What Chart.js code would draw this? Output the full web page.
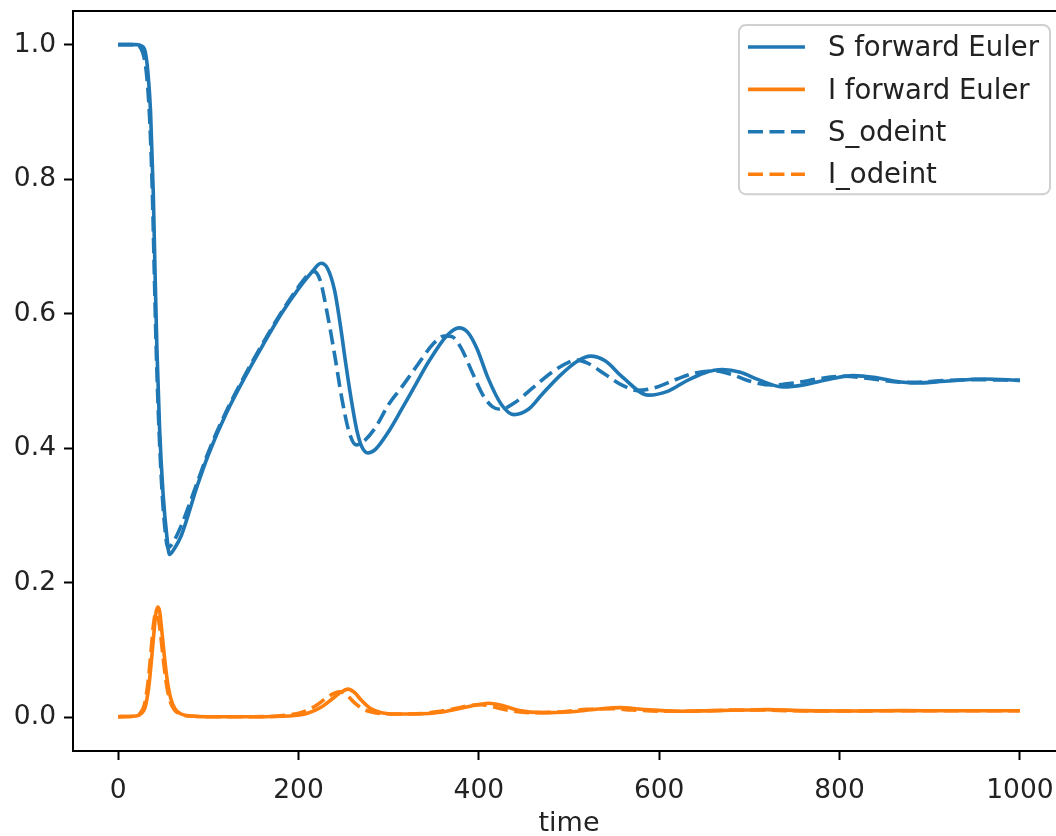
<!DOCTYPE html>
<html>
<head>
<meta charset="utf-8">
<script src="https://cdn.jsdelivr.net/npm/chart.js@4/dist/chart.umd.min.js"></script>
<style>
  html, body { margin: 0; padding: 0; background: #fff; overflow: hidden; }
  #wrap { width: 1056px; height: 836px; overflow: hidden; }
  canvas { display: block; }
</style>
</head>
<body>
<div id="wrap"><canvas id="chart" width="1070" height="836"></canvas></div>
<script>
// values (time, fraction of population)
const tSEuler = [0, 20, 26, 30, 33, 36, 39, 41, 43, 46, 50, 54, 57, 62, 70, 88, 100, 120, 144, 160, 181, 200, 215, 225, 232, 240, 247, 252, 258, 265, 270, 277, 285, 300, 314, 328, 345, 365, 378, 388, 398, 410, 425, 439, 455, 470, 490, 510, 524, 540, 560, 588, 610, 630, 650, 670, 690, 710, 738, 760, 790, 815, 840, 860, 885, 920, 960, 1000];
const sEuler = [1.0, 1.0, 0.998, 0.99, 0.96, 0.9, 0.78, 0.66, 0.55, 0.43, 0.33, 0.27, 0.242, 0.25, 0.27, 0.345, 0.39, 0.452, 0.514, 0.552, 0.6, 0.637, 0.662, 0.675, 0.668, 0.635, 0.578, 0.53, 0.477, 0.425, 0.403, 0.393, 0.398, 0.425, 0.457, 0.49, 0.53, 0.568, 0.579, 0.572, 0.548, 0.505, 0.465, 0.45, 0.458, 0.48, 0.508, 0.53, 0.537, 0.53, 0.505, 0.479, 0.485, 0.5, 0.512, 0.517, 0.513, 0.502, 0.491, 0.494, 0.503, 0.508, 0.505, 0.5, 0.497, 0.5, 0.503, 0.501];

const tIEuler = [0, 20, 26, 30, 34, 37, 40, 42, 44, 46, 48, 51, 54, 58, 63, 70, 80, 100, 150, 190, 210, 225, 238, 248, 255, 262, 270, 280, 292, 310, 330, 360, 385, 400, 411, 425, 445, 470, 500, 530, 557, 580, 620, 660, 700, 720, 760, 820, 870, 920, 1000];
const iEuler = [0.001, 0.002, 0.006, 0.015, 0.045, 0.085, 0.13, 0.155, 0.164, 0.158, 0.135, 0.095, 0.06, 0.03, 0.013, 0.005, 0.002, 0.001, 0.001, 0.002, 0.006, 0.015, 0.028, 0.038, 0.042, 0.037, 0.025, 0.013, 0.007, 0.005, 0.005, 0.008, 0.015, 0.019, 0.021, 0.018, 0.01, 0.007, 0.008, 0.012, 0.0145, 0.012, 0.009, 0.01, 0.011, 0.0115, 0.01, 0.0095, 0.01, 0.0098, 0.0098];

const tSOde = [0, 20, 25, 29, 32, 35, 38, 40, 42, 45, 49, 52, 55, 60, 70, 88, 100, 120, 144, 160, 181, 200, 212, 217, 224, 232, 240, 248, 256, 264, 272, 285, 300, 314, 330, 350, 362, 370, 380, 392, 405, 415, 424, 440, 460, 480, 500, 509, 520, 540, 560, 576, 595, 620, 640, 660, 680, 700, 725, 750, 780, 805, 830, 860, 880, 920, 950, 1000];
const sOde = [1.0, 1.0, 0.995, 0.98, 0.95, 0.89, 0.78, 0.67, 0.56, 0.44, 0.33, 0.28, 0.252, 0.258, 0.285, 0.35, 0.394, 0.455, 0.517, 0.555, 0.602, 0.64, 0.66, 0.663, 0.65, 0.6, 0.54, 0.475, 0.425, 0.405, 0.41, 0.43, 0.465, 0.49, 0.52, 0.556, 0.567, 0.566, 0.55, 0.515, 0.478, 0.462, 0.458, 0.468, 0.49, 0.512, 0.528, 0.531, 0.527, 0.51, 0.493, 0.486, 0.49, 0.503, 0.512, 0.515, 0.51, 0.5, 0.494, 0.497, 0.504, 0.507, 0.504, 0.499, 0.498, 0.501, 0.502, 0.501];

const tIOde = [0, 20, 25, 29, 33, 36, 39, 41, 43, 45, 47, 50, 53, 57, 62, 70, 80, 100, 150, 185, 205, 220, 232, 240, 246, 253, 262, 272, 285, 310, 340, 370, 392, 402, 415, 435, 460, 490, 520, 545, 570, 610, 650, 690, 710, 750, 810, 860, 1000];
const iOde = [0.001, 0.002, 0.007, 0.018, 0.05, 0.09, 0.135, 0.152, 0.155, 0.145, 0.125, 0.088, 0.055, 0.027, 0.012, 0.004, 0.002, 0.001, 0.001, 0.003, 0.008, 0.018, 0.03, 0.036, 0.038, 0.034, 0.022, 0.012, 0.007, 0.005, 0.006, 0.012, 0.018, 0.019, 0.016, 0.01, 0.007, 0.008, 0.012, 0.013, 0.011, 0.009, 0.0095, 0.011, 0.011, 0.0098, 0.0095, 0.0098, 0.0098];

const seriesLabels = ['S forward Euler', 'I forward Euler', 'S_odeint', 'I_odeint'];
const xTicks = [0, 200, 400, 600, 800, 1000];
const yTicks = [0, 0.2, 0.4, 0.6, 0.8, 1.0];

const BLUE = '#1f77b4';
const ORANGE = '#ff7f0e';
const DASH = [15, 6.5];
const FONT = 'DejaVu Sans';
const TXT = '#222';

function pts(ts, vs) {
  return ts.map((t, i) => ({ x: t, y: vs[i] }));
}

function lineSet(label, data, color, dash, order) {
  return {
    label, data, order,
    borderColor: color,
    borderWidth: 3.6,
    borderDash: dash,
    borderCapStyle: 'butt',
    borderJoinStyle: 'round',
    pointRadius: 0,
    fill: false,
    cubicInterpolationMode: 'monotone'
  };
}

// matplotlib-like framed legend + top/right spines
const boxLegend = {
  id: 'boxLegend',
  afterDraw(chart) {
    const ctx = chart.ctx;
    const area = chart.chartArea;

    ctx.save();
    ctx.strokeStyle = '#000';
    ctx.lineWidth = 2;
    ctx.beginPath();
    ctx.moveTo(area.left - 1, area.top);
    ctx.lineTo(area.right + 1, area.top);
    ctx.moveTo(area.right, area.top);
    ctx.lineTo(area.right, area.bottom);
    ctx.stroke();

    const sets = chart.data.datasets;
    ctx.font = `27.5px "${FONT}"`;
    const textW = Math.max(...sets.map(d => ctx.measureText(d.label).width));
    const padL = 9, handle = 57, gap = 23, padR = 11;
    const rowH = 42.4, firstRow = 22;
    const w = padL + handle + gap + textW + padR;
    const h = firstRow * 2 + rowH * (sets.length - 1) - 2;
    const x0 = area.right - 15 - w;
    const y0 = area.top + 14;

    ctx.fillStyle = 'rgba(255,255,255,0.8)';
    ctx.strokeStyle = '#d0d0d0';
    ctx.lineWidth = 2;
    ctx.beginPath();
    ctx.roundRect(x0, y0, w, h, 7);
    ctx.fill();
    ctx.stroke();

    sets.forEach((d, i) => {
      const cy = y0 + firstRow + i * rowH;
      ctx.strokeStyle = d.borderColor;
      ctx.lineWidth = d.borderWidth;
      ctx.setLineDash(d.borderDash || []);
      ctx.lineCap = 'butt';
      ctx.beginPath();
      ctx.moveTo(x0 + padL, cy);
      ctx.lineTo(x0 + padL + handle, cy);
      ctx.stroke();
      ctx.setLineDash([]);
      ctx.fillStyle = TXT;
      ctx.textBaseline = 'middle';
      ctx.textAlign = 'left';
      ctx.fillText(d.label, x0 + padL + handle + gap, cy + 2);
    });
    ctx.restore();
  }
};

const ctx = document.getElementById('chart').getContext('2d');
new Chart(ctx, {
  type: 'line',
  data: {
    datasets: [
      lineSet(seriesLabels[0], pts(tSEuler, sEuler), BLUE, [], 3),
      lineSet(seriesLabels[1], pts(tIEuler, iEuler), ORANGE, [], 2),
      lineSet(seriesLabels[2], pts(tSOde, sOde), BLUE, DASH, 1),
      lineSet(seriesLabels[3], pts(tIOde, iOde), ORANGE, DASH, 0)
    ]
  },
  options: {
    responsive: false,
    devicePixelRatio: 1,
    animation: false,
    layout: { padding: { left: 0, right: 5, top: 11, bottom: 0 } },
    plugins: { legend: { display: false }, tooltip: { enabled: false } },
    scales: {
      x: {
        type: 'linear',
        min: -50,
        max: 1050,
        afterBuildTicks: s => { s.ticks = xTicks.map(v => ({ value: v })); },
        afterFit: s => { s.height = 85; s.paddingLeft = 0; s.paddingRight = 0; },
        grid: { drawOnChartArea: false, drawTicks: true, tickLength: 9, tickWidth: 2, tickColor: '#000' },
        border: { display: true, color: '#000', width: 2 },
        ticks: {
          color: TXT,
          font: { family: FONT, size: 26.5 },
          padding: 15,
          maxRotation: 0,
          autoSkip: false,
          callback: v => String(v)
        },
        title: {
          display: true,
          text: 'time',
          color: TXT,
          font: { family: FONT, size: 27 },
          padding: { top: 0, bottom: -4 }
        }
      },
      y: {
        type: 'linear',
        min: -0.05,
        max: 1.05,
        afterBuildTicks: s => { s.ticks = yTicks.map(v => ({ value: v })); },
        afterFit: s => { s.width = 73; s.paddingTop = 0; s.paddingBottom = 0; },
        grid: { drawOnChartArea: false, drawTicks: true, tickLength: 9, tickWidth: 2, tickColor: '#000' },
        border: { display: true, color: '#000', width: 2 },
        ticks: {
          color: TXT,
          font: { family: FONT, size: 26.5 },
          padding: 8,
          autoSkip: false,
          callback: v => v.toFixed(1)
        }
      }
    }
  },
  plugins: [boxLegend]
});
</script>
</body>
</html>
